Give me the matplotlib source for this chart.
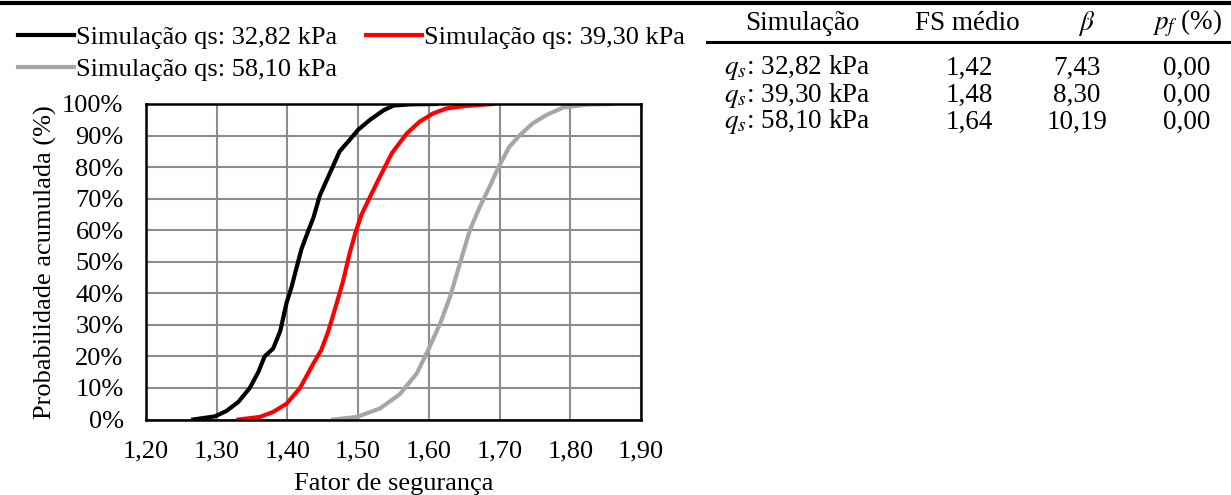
import matplotlib
matplotlib.use("Agg")
import matplotlib.pyplot as plt
from matplotlib.lines import Line2D
from matplotlib.ticker import FuncFormatter

plt.rcParams['font.family'] = ['Liberation Serif', 'DejaVu Serif']
plt.rcParams['mathtext.fontset'] = 'stix'

# dados (FS, probabilidade acumulada %)
fs_a = [1.267, 1.298, 1.314, 1.331, 1.347, 1.359, 1.368, 1.380, 1.390, 1.399, 1.406,
        1.413, 1.420, 1.430, 1.437, 1.446, 1.458, 1.474, 1.488, 1.500, 1.517, 1.536,
        1.550, 1.575, 1.610]
p_a = [0, 1, 2.7, 5.6, 10, 15, 20, 22.5, 28, 37, 42, 48, 54, 60, 64, 71, 77, 85, 88.6,
       91.8, 95, 98, 99.5, 99.9, 100]

fs_b = [1.331, 1.361, 1.380, 1.399, 1.418, 1.437, 1.448, 1.458, 1.470, 1.479, 1.488,
        1.496, 1.505, 1.517, 1.531, 1.548, 1.569, 1.587, 1.606, 1.625, 1.653, 1.691]
p_b = [0, 0.8, 2.4, 5, 10, 17.8, 22, 28, 37, 44, 52.6, 59, 65, 70.6, 77, 84.5, 90.7,
       94.4, 97, 98.6, 99.4, 100]

fs_c = [1.465, 1.498, 1.531, 1.559, 1.583, 1.599, 1.616, 1.630, 1.644, 1.658, 1.672,
        1.686, 1.700, 1.714, 1.729, 1.747, 1.766, 1.790, 1.823, 1.860]
p_c = [0, 0.8, 3.5, 8, 14.6, 22, 30.4, 38.9, 49.5, 60, 67.4, 73.8, 80.7, 86.5, 90.2,
       93.9, 96.5, 98.9, 99.8, 100]

labels = ['Simulação qs: 32,82 kPa', 'Simulação qs: 39,30 kPa', 'Simulação qs: 58,10 kPa']

# tabela
tab_header = ['Simulação', 'FS médio', r'$\beta$', r'$p_f$ (%)']
tab_sim = [r'$q_s$: 32,82 kPa', r'$q_s$: 39,30 kPa', r'$q_s$: 58,10 kPa']
tab_fs = ['1,42', '1,48', '1,64']
tab_beta = ['7,43', '8,30', '10,19']
tab_pf = ['0,00', '0,00', '0,00']

fs = 19
fs_tab = 19.5

W, H = 1231, 495
fig = plt.figure(figsize=(W / 100, H / 100), dpi=100)
ax = fig.add_axes([0.1184, 0.1525, 0.4024, 0.6374])

la, = ax.plot(fs_a, p_a, color='black', lw=3.0)
lb, = ax.plot(fs_b, p_b, color='#ff0000', lw=3.0)
lc, = ax.plot(fs_c, p_c, color='#a6a6a6', lw=3.0)

ax.set_xlim(1.2, 1.9)
ax.set_ylim(0, 100)
ax.set_xticks([1.2 + 0.1 * i for i in range(8)])
ax.set_yticks(range(0, 101, 10))
ax.xaxis.set_major_formatter(FuncFormatter(lambda v, p: f'{v:.2f}'.replace('.', ',')))
ax.yaxis.set_major_formatter(FuncFormatter(lambda v, p: f'{v:.0f}%'))
ax.grid(True, color='#8c8c8c', lw=1.5)
ax.set_axisbelow(True)
ax.tick_params(length=0, labelsize=fs)
ax.tick_params(axis='y', pad=16)
ax.tick_params(axis='x', pad=15)
for s in ax.spines.values():
    s.set_linewidth(1.8)
    s.set_color('black')
ax.set_xlabel('Fator de segurança', fontsize=fs, labelpad=8)
ax.set_ylabel('Probabilidade acumulada (%)', fontsize=fs, labelpad=4)

fig.legend([la, lc, lb], [labels[0], labels[2], labels[1]], ncol=2,
           loc='upper left', bbox_to_anchor=(0.0, 0.985), frameon=False,
           fontsize=fs, handlelength=2.1, handletextpad=0.08, columnspacing=1.1,
           labelspacing=0.3, borderaxespad=0.3)

# linhas da tabela
fig.add_artist(Line2D([0, 1], [1 - 2.5 / H, 1 - 2.5 / H], color='black', lw=3))
fig.add_artist(Line2D([707 / W, 1], [1 - 42 / H, 1 - 42 / H], color='black', lw=2.2))

col_x = [802, 967, 1087, 1187]
for x, t in zip(col_x, tab_header):
    fig.text(x / W, 1 - 23 / H, t, ha='center', va='center', fontsize=fs_tab)

row_y = [68, 95, 122]
for i, y in enumerate(row_y):
    yy = 1 - y / H
    fig.text(724 / W, yy, tab_sim[i], ha='left', va='center', fontsize=fs_tab)
    fig.text(969 / W, yy, tab_fs[i], ha='center', va='center', fontsize=fs_tab)
    fig.text(1077 / W, yy, tab_beta[i], ha='center', va='center', fontsize=fs_tab)
    fig.text(1187 / W, yy, tab_pf[i], ha='center', va='center', fontsize=fs_tab)

fig.savefig('out.png', dpi=100)
